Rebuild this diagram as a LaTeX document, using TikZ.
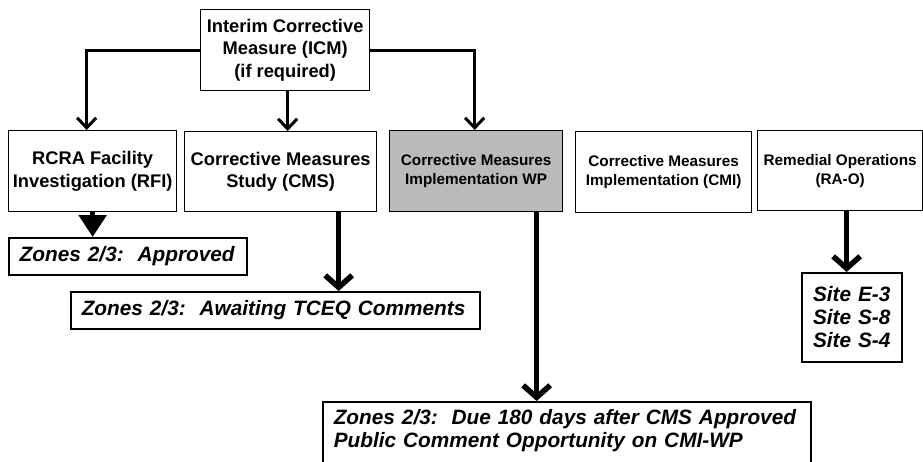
\documentclass[tikz,border=0pt]{standalone}
\usepackage{fontspec}
\setmainfont{Liberation Sans}
\usetikzlibrary{arrows.meta}
\newcommand{\lpad}{\leavevmode\kern8pt\relax}
\tikzset{
  box/.style={draw, line width=1.3pt, align=center, inner sep=0pt, anchor=north west,
    font=\bfseries\fontsize{18.3}{22.5}\selectfont},
  smallbox/.style={box, font=\bfseries\fontsize{15.3}{19}\selectfont},
  label/.style={draw, line width=1.5pt, align=left, inner xsep=3pt, inner ysep=0pt, anchor=north west,
    font=\bfseries\itshape\fontsize{20.8}{23}\selectfont},
  thinarr/.style={line width=3pt, -{Straight Barb[length=10pt,width=19pt]}},
  bigarr/.style={line width=5.5pt, -{Straight Barb[length=12pt,width=27pt]}},
}
\begin{document}
\begin{tikzpicture}[x=1pt,y=-1pt]
\useasboundingbox (0,0) rectangle (923,461);
\fill[white] (0,0) rectangle (923,461);

\node[box, minimum width=169pt, minimum height=81pt] (icm) at (200,9) {Interim Corrective\\Measure (ICM)\\(if required)};
\node[box, minimum width=168pt, minimum height=81pt] (rfi) at (8,130) {RCRA Facility\\Investigation (RFI)};
\node[box, minimum width=192pt, minimum height=80pt] (cms) at (184,131) {Corrective Measures\\Study (CMS)};
\node[smallbox, fill=black!27, minimum width=173pt, minimum height=81pt] (wp) at (389,130) {Corrective Measures\\Implementation WP};
\node[smallbox, minimum width=176pt, minimum height=81pt] (cmi) at (575,131) {Corrective Measures\\Implementation (CMI)};
\node[smallbox, minimum width=165pt, minimum height=80pt] (rao) at (757,130) {Remedial Operations\\(RA-O)};

\node[label, text width=232pt, minimum height=37pt] (z1) at (8,237) {\lpad Zones 2/3:\ \ Approved};
\node[label, text width=403pt, minimum height=37pt] (z2) at (70,291) {\lpad Zones 2/3:\ \ Awaiting TCEQ Comments};
\node[label, text width=482pt, inner ysep=8pt] (z3) at (322,401) {\lpad Zones 2/3:\ \ Due 180 days after CMS Approved\\\lpad Public Comment Opportunity on CMI-WP\rule[-14pt]{0pt}{0pt}};
\node[label, align=center, inner xsep=0pt, text width=100pt, minimum height=89pt] (sites) at (801,272) {Site E-3\\Site S-8\\Site S-4};

% connectors from ICM
\draw[thinarr] (icm.west) -| ([xshift=-6pt]rfi.north);
\draw[thinarr] (icm.east) -| ([xshift=-1.5pt]wp.north);
\draw[thinarr] ([xshift=2.5pt]icm.south) -- ([xshift=2.5pt]icm.south |- cms.north);

% down arrows
\draw[line width=5.5pt, -{Triangle[length=22pt,width=27pt]}] (rfi.south) -- (rfi.south |- z1.north);
\draw[bigarr] ([xshift=58pt]cms.south) -- ([xshift=58pt]cms.south |- z2.north);
\draw[bigarr] ([xshift=60.5pt]wp.south) -- ([xshift=60.5pt]wp.south |- z3.north);
\draw[bigarr] ([xshift=6.5pt]rao.south) -- ([xshift=6.5pt]rao.south |- sites.north);
\end{tikzpicture}
\end{document}
